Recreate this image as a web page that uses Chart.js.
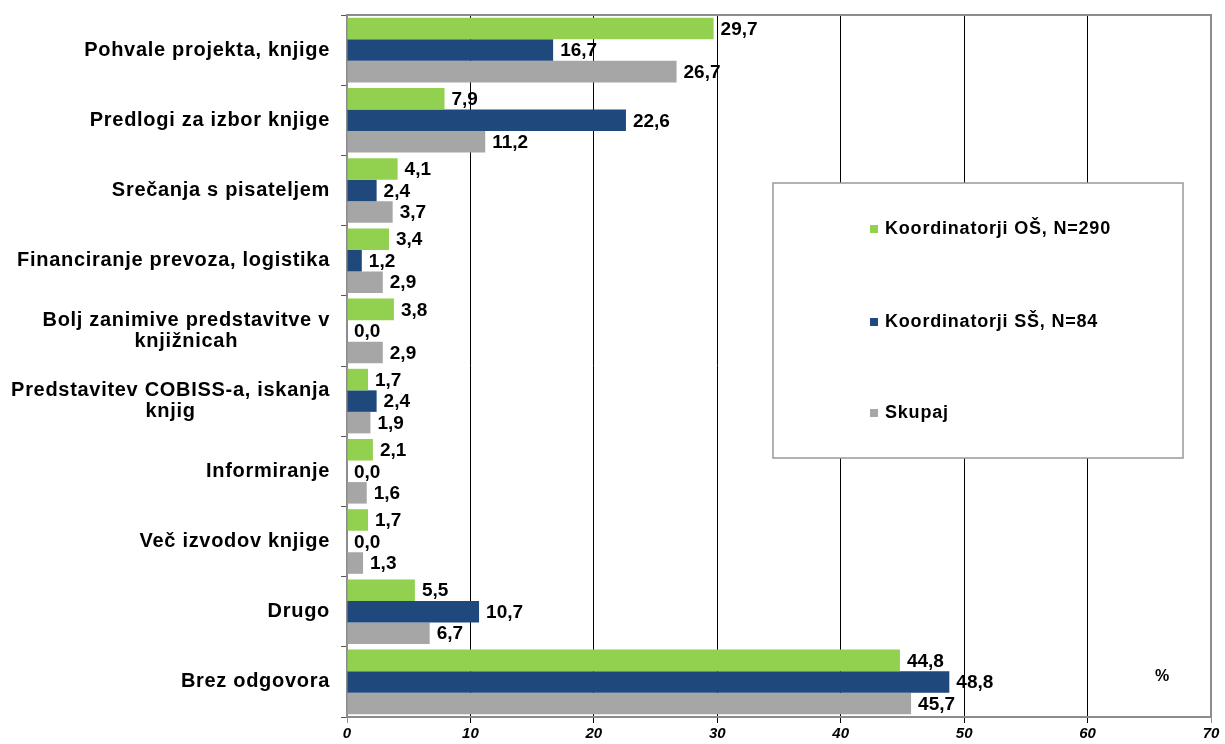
<!DOCTYPE html>
<html>
<head>
<meta charset="utf-8">
<script src="https://cdn.jsdelivr.net/npm/chart.js@4.4.0/dist/chart.umd.min.js"></script>
<style>
  html, body { margin: 0; padding: 0; background: #fff; }
  #wrap { width: 1225px; height: 744px; }
</style>
</head>
<body>
<div id="wrap"><canvas id="chart" width="1225" height="744"></canvas></div>
<script>
// categories (multi-line ones as arrays)
var categories = [
  ['Pohvale projekta, knjige'],
  ['Predlogi za izbor knjige'],
  ['Srečanja s pisateljem'],
  ['Financiranje prevoza, logistika'],
  ['Bolj zanimive predstavitve v', 'knjižnicah'],
  ['Predstavitev COBISS-a, iskanja', 'knjig'],
  ['Informiranje'],
  ['Več izvodov knjige'],
  ['Drugo'],
  ['Brez odgovora']
];
var seriesNames = ['Koordinatorji OŠ, N=290', 'Koordinatorji SŠ, N=84', 'Skupaj'];
var osValues = [29.7, 7.9, 4.1, 3.4, 3.8, 1.7, 2.1, 1.7, 5.5, 44.8];
var ssValues = [16.7, 22.6, 2.4, 1.2, 0.0, 2.4, 0.0, 0.0, 10.7, 48.8];
var skupajValues = [26.7, 11.2, 3.7, 2.9, 2.9, 1.9, 1.6, 1.3, 6.7, 45.7];
var seriesColors = ['#92D050', '#1F497D', '#A6A6A6'];
var xTicks = [0, 10, 20, 30, 40, 50, 60, 70];

var FONT = '"Liberation Sans", Arial, sans-serif';

function fmt(v) {
  return v.toFixed(1).replace('.', ',');
}

// value labels at bar ends
var valueLabels = {
  id: 'valueLabels',
  afterDatasetsDraw(chart) {
    let c = chart.ctx;
    c.save();
    c.font = 'bold 19px ' + FONT;
    c.fillStyle = '#000';
    c.textAlign = 'left';
    c.textBaseline = 'middle';
    chart.data.datasets.forEach((ds, i) => {
      chart.getDatasetMeta(i).data.forEach((bar, j) => {
        c.fillText(fmt(ds.data[j]), bar.x + 7, bar.y + 1);
      });
    });
    c.restore();
  }
};

// category labels: block right aligned, lines centered inside the block
var catLabels = {
  id: 'catLabels',
  afterDraw(chart) {
    let c = chart.ctx;
    let y = chart.scales.y;
    c.save();
    c.font = 'bold 20px ' + FONT;
    c.letterSpacing = '0.7px';
    c.fillStyle = '#000';
    c.textAlign = 'center';
    c.textBaseline = 'middle';
    let right = chart.chartArea.left - 17;
    categories.forEach((lines, i) => {
      let maxW = Math.max(...lines.map(l => c.measureText(l).width));
      let cx = right - maxW / 2;
      let cy = y.getPixelForValue(i);
      let lh = 21;
      lines.forEach((l, k) => {
        c.fillText(l, cx, cy + (k - (lines.length - 1) / 2) * lh);
      });
    });
    c.restore();
  }
};

// frame, legend box and % sign
var extras = {
  id: 'extras',
  afterDraw(chart) {
    let c = chart.ctx;
    let a = chart.chartArea;
    c.save();
    c.strokeStyle = '#8c8c8c';
    c.lineWidth = 2;
    c.beginPath();
    c.moveTo(a.left, a.top);
    c.lineTo(a.right, a.top);
    c.lineTo(a.right, a.bottom);
    c.stroke();

    // legend box
    let lx = 773, ly = 183, lw = 410, lh = 275;
    c.fillStyle = '#fff';
    c.fillRect(lx, ly, lw, lh);
    c.lineWidth = 1.5;
    c.strokeStyle = '#999';
    c.strokeRect(lx, ly, lw, lh);
    let rows = [229, 322, 413];
    c.font = 'bold 18px ' + FONT;
    c.letterSpacing = '0.8px';
    c.textBaseline = 'middle';
    c.textAlign = 'left';
    seriesNames.forEach((n, i) => {
      c.fillStyle = seriesColors[i];
      c.fillRect(870, rows[i] - 4, 8, 8);
      c.fillStyle = '#000';
      c.fillText(n, 885, rows[i]);
    });

    c.letterSpacing = '0px';
    c.font = 'bold 16px ' + FONT;
    c.textAlign = 'center';
    c.fillText('%', 1162, 677);
    c.restore();
  }
};

var ctx = document.getElementById('chart').getContext('2d');
var myChart = new Chart(ctx, {
  type: 'bar',
  data: {
    labels: categories.map(l => l.join(' ')),
    datasets: [
      { label: seriesNames[0], data: osValues, backgroundColor: seriesColors[0] },
      { label: seriesNames[1], data: ssValues, backgroundColor: seriesColors[1] },
      { label: seriesNames[2], data: skupajValues, backgroundColor: seriesColors[2] }
    ]
  },
  options: {
    indexAxis: 'y',
    responsive: false,
    animation: false,
    devicePixelRatio: 1,
    categoryPercentage: 0.92,
    barPercentage: 1.0,
    layout: { padding: { left: 0, right: 14, top: 15, bottom: 0 } },
    plugins: {
      legend: { display: false },
      tooltip: { enabled: false }
    },
    scales: {
      x: {
        min: 0,
        max: 70,
        afterBuildTicks: (scale) => { scale.ticks = xTicks.map(v => ({ value: v })); },
        afterFit: (scale) => { scale.height = 27; },
        border: { color: '#8c8c8c', width: 2 },
        grid: {
          color: (c) => (c.tick && (c.tick.value === 70 || c.tick.value === 0)) ? '#8c8c8c' : '#000',
          lineWidth: 1,
          tickLength: 6
        },
        ticks: {
          color: '#000',
          padding: 2,
          maxRotation: 0,
          font: { family: FONT, size: 15, weight: 'bold', style: 'italic' }
        }
      },
      y: {
        afterFit: (scale) => { scale.width = 347; },
        border: { color: '#8c8c8c', width: 2 },
        grid: {
          offset: true,
          drawOnChartArea: false,
          color: '#555',
          tickLength: 6
        },
        ticks: { display: false }
      }
    }
  },
  plugins: [valueLabels, catLabels, extras]
});
</script>
</body>
</html>
